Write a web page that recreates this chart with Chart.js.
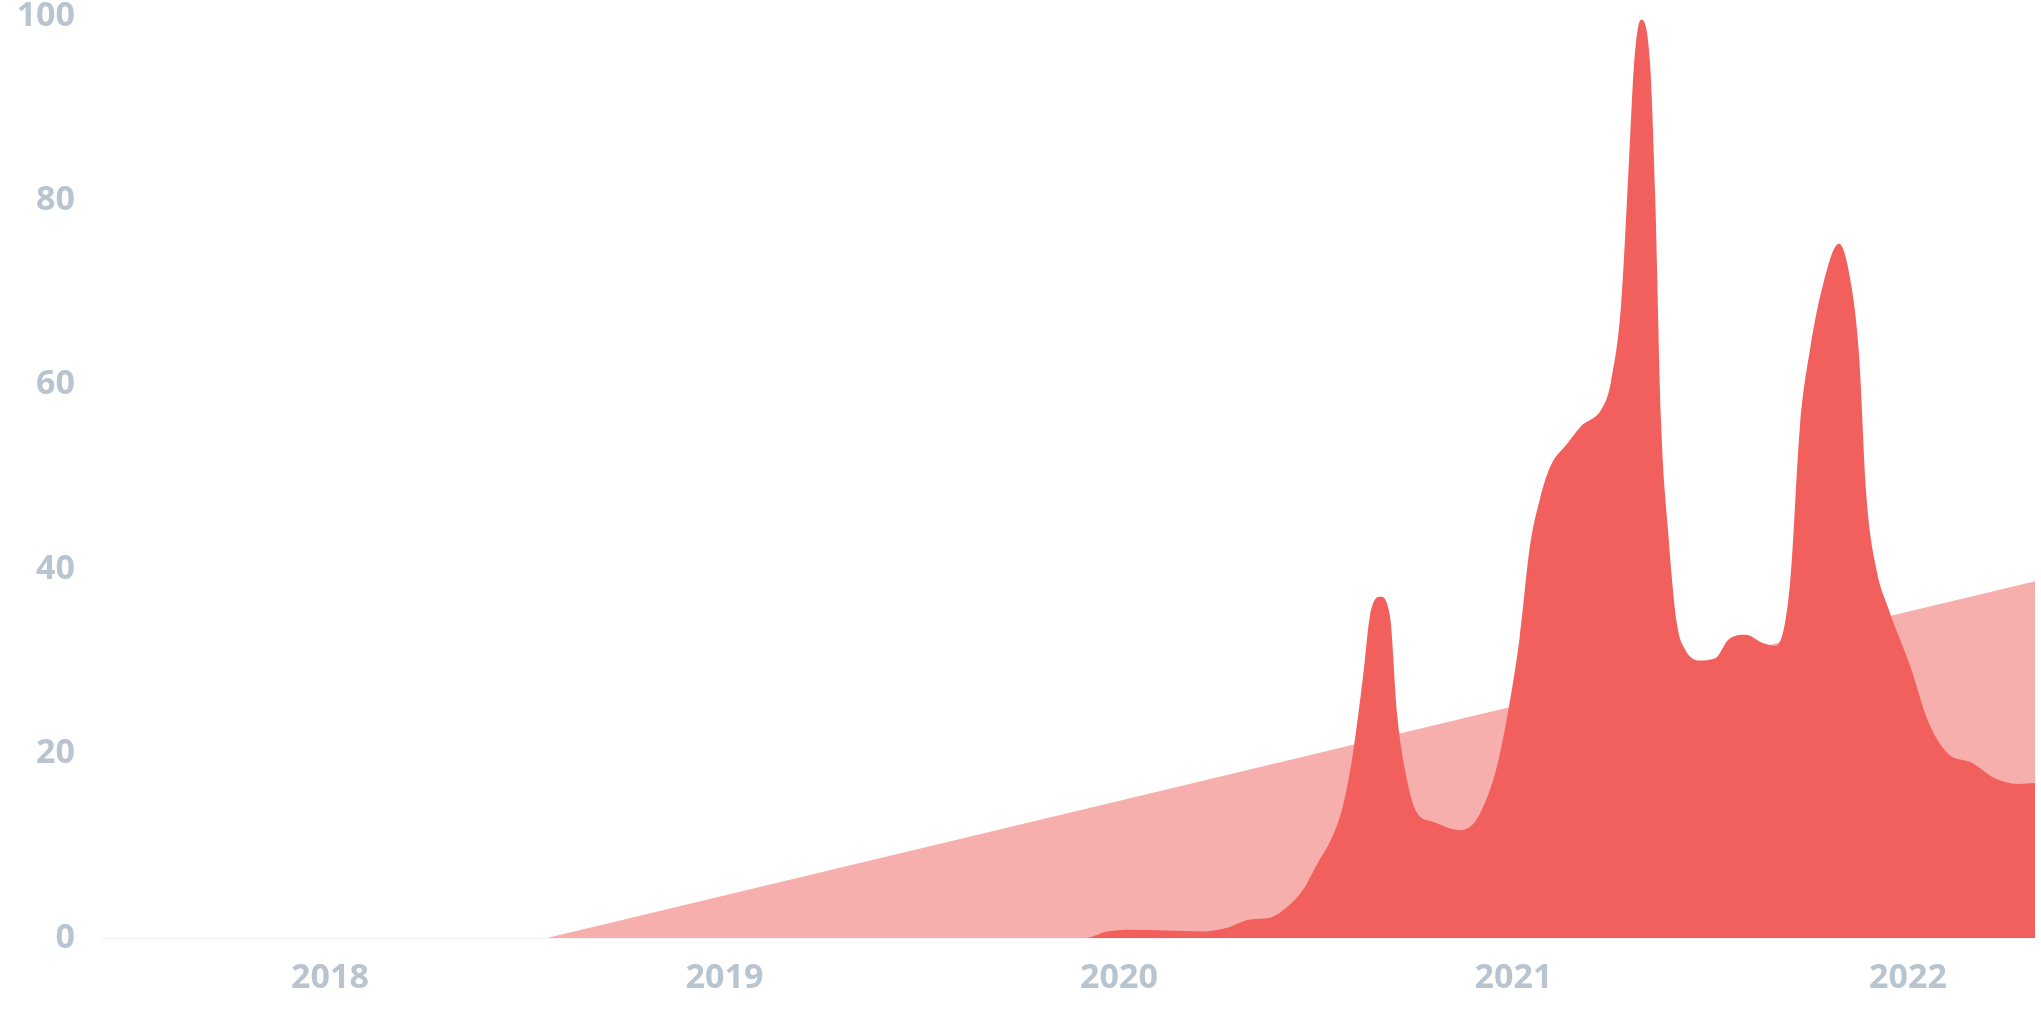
<!DOCTYPE html>
<html>
<head>
<meta charset="utf-8">
<script src="https://cdn.jsdelivr.net/npm/chart.js@4/dist/chart.umd.min.js"></script>
<style>
  html, body { margin: 0; padding: 0; background: #fff; }
  #wrap { width: 2041px; height: 1020px; position: relative; }
</style>
</head>
<body>
<div id="wrap"><canvas id="chart"></canvas></div>
<script>
// x values are decimal years
const yearTicks = [2018, 2019, 2020, 2021, 2022]
const yTicks = [0, 20, 40, 60, 80, 100]

const redYears = [2017.417, 2019.914, 2019.970, 2020.028, 2020.122, 2020.213, 2020.274, 2020.332, 2020.383, 2020.416,
  2020.466, 2020.502, 2020.543, 2020.568, 2020.593, 2020.619, 2020.636, 2020.662, 2020.687, 2020.705,
  2020.730, 2020.755, 2020.796, 2020.864, 2020.907, 2020.958, 2020.991, 2021.016, 2021.042, 2021.067,
  2021.093, 2021.136, 2021.169, 2021.229, 2021.247, 2021.273, 2021.293, 2021.306, 2021.323, 2021.346,
  2021.359, 2021.374, 2021.392, 2021.414, 2021.435, 2021.478, 2021.511, 2021.546, 2021.589, 2021.632,
  2021.665, 2021.701, 2021.726, 2021.752, 2021.785, 2021.825, 2021.853, 2021.876, 2021.894, 2021.921,
  2021.949, 2022.008, 2022.051, 2022.101, 2022.162, 2022.221, 2022.281, 2022.322]
const redValues = [0, 0, 0.7, 0.9, 0.8, 0.7, 1.1, 2.0, 2.2, 3.0,
  5.2, 8.0, 11.2, 14.4, 20, 28.5, 34.9, 37.0, 34.9, 24.3,
  17.2, 13.6, 12.6, 11.7, 12.9, 18.6, 25.7, 32.7, 42.6, 47.6,
  51.1, 53.6, 55.4, 57.8, 60.3, 68.8, 84.4, 95, 99.6, 95,
  80.8, 56.1, 44.1, 34.2, 31.3, 30.1, 30.3, 32.4, 32.9, 32.0,
  31.7, 38.4, 55.4, 63.9, 70.9, 75.3, 71.6, 63.2, 48.3, 39.8,
  35.9, 29.2, 23.5, 20.0, 19.0, 17.3, 16.7, 16.8]

// trend area behind
const pinkYears = [2017.417, 2018.55, 2022.322]
const pinkValues = [0, 0, 38.7]

const toPoints = (xs, ys) => xs.map((x, i) => ({ x: x, y: ys[i] }))

const tickFont = { family: "'Open Sans', sans-serif", size: 34, weight: '700', lineHeight: 1 }
const tickColor = '#b8c4cf'

new Chart(document.getElementById('chart'), {
  type: 'line',
  data: {
    datasets: [
      {
        data: toPoints(redYears, redValues),
        backgroundColor: '#f2605e',
        borderWidth: 0,
        fill: 'origin',
        pointRadius: 0,
        cubicInterpolationMode: 'monotone'
      },
      {
        data: toPoints(pinkYears, pinkValues),
        backgroundColor: '#f7afad',
        borderWidth: 0,
        fill: 'origin',
        pointRadius: 0,
        tension: 0
      }
    ]
  },
  options: {
    responsive: true,
    maintainAspectRatio: false,
    animation: false,
    layout: { padding: { top: 16, right: 6, left: 0, bottom: 0 } },
    plugins: { legend: { display: false }, tooltip: { enabled: false } },
    scales: {
      x: {
        type: 'linear',
        min: 2017.417,
        max: 2022.322,
        afterBuildTicks: axis => { axis.ticks = yearTicks.map(v => ({ value: v })) },
        afterFit: axis => { axis.height = 82; axis.paddingLeft = 0; axis.paddingRight = 0 },
        grid: { display: false, drawTicks: false },
        border: { display: true, color: '#f1f1f3', width: 1 },
        ticks: { color: tickColor, font: tickFont, padding: 23, maxRotation: 0, callback: v => String(v) }
      },
      y: {
        min: 0,
        max: 100,
        afterBuildTicks: axis => { axis.ticks = yTicks.map(v => ({ value: v })) },
        afterFit: axis => { axis.width = 100; axis.paddingTop = 0; axis.paddingBottom = 0 },
        grid: { display: false, drawTicks: false },
        border: { display: false },
        ticks: { color: tickColor, font: tickFont, padding: 25, callback: v => String(v) }
      }
    }
  }
})
</script>
</body>
</html>
